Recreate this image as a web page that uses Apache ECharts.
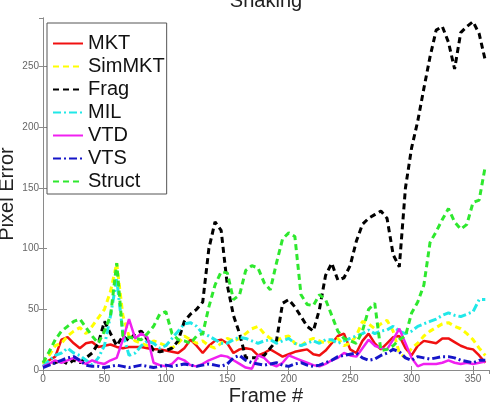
<!DOCTYPE html>
<html>
<head>
<meta charset="utf-8">
<script src="https://cdn.jsdelivr.net/npm/echarts@6/dist/echarts.min.js"></script>
<style>
  html, body { margin: 0; padding: 0; background: #fff; }
  #main { width: 495px; height: 404px; }
</style>
</head>
<body>
<div id="main"></div>
<script>
// frame numbers (every 5 frames)
let frames = [];
for (let i = 0; i <= 360; i = i + 5) {
    frames.push(i);
}

let mkt = [5, 8, 11, 25, 27, 22, 18, 22, 23, 19, 20, 21, 19, 18, 19, 19, 19, 18, 17, 17,
    16, 15, 14, 18, 25, 20, 14, 20, 24, 25, 22, 14, 17, 18, 17, 12, 14, 17, 14, 11,
    13, 15, 16, 17, 13, 12, 16, 22, 28, 30, 17, 14, 24, 30, 22, 17, 22, 27, 28, 18,
    12, 20, 24, 23, 22, 26, 26, 23, 20, 18, 17, 12, 6];
let simMkt = [5, 12, 20, 22, 28, 32, 35, 30, 36, 43, 50, 65, 88, 45, 28, 24, 22, 20, 24, 22,
    20, 18, 22, 28, 25, 22, 24, 20, 18, 22, 26, 24, 26, 30, 34, 36, 30, 26, 24, 27,
    28, 22, 20, 24, 26, 24, 22, 24, 26, 20, 22, 28, 40, 38, 34, 38, 41, 32, 14, 10,
    18, 22, 28, 32, 35, 38, 39, 36, 34, 30, 25, 18, 12];
let frag = [3, 5, 6, 8, 5, 8, 6, 10, 14, 22, 40, 30, 20, 28, 24, 30, 32, 25, 16, 15,
    16, 18, 24, 40, 46, 50, 56, 100, 122, 115, 70, 45, 30, 10, 10, 10, 12, 18, 24, 55,
    58, 52, 44, 36, 32, 50, 78, 88, 74, 76, 86, 106, 120, 125, 128, 131, 125, 95, 85, 150,
    183, 205, 232, 258, 280, 283, 270, 248, 278, 283, 287, 277, 255];
let mil = [3, 8, 12, 14, 18, 14, 12, 8, 4, 10, 20, 45, 75, 30, 12, 14, 20, 24, 22, 18,
    20, 26, 32, 38, 39, 36, 30, 28, 25, 22, 22, 25, 27, 26, 24, 22, 24, 25, 22, 24,
    26, 22, 20, 22, 24, 22, 25, 25, 22, 24, 26, 28, 30, 33, 30, 32, 33, 36, 32, 30,
    32, 36, 38, 40, 42, 45, 47, 45, 44, 46, 48, 58, 58];
let vtd = [3, 5, 8, 6, 8, 10, 7, 5, 8, 6, 5, 8, 10, 25, 42, 26, 30, 27, 6, 4,
    3, 5, 10, 8, 4, 3, 5, 8, 10, 12, 11, 8, 5, 2, 1, 12, 10, 5, 3, 6,
    12, 10, 8, 6, 4, 3, 5, 8, 10, 14, 12, 11, 18, 25, 20, 18, 17, 25, 34, 22,
    10, 3, 5, 5, 5, 6, 8, 6, 5, 6, 5, 6, 7];
let vts = [2, 4, 6, 8, 10, 11, 8, 4, 3, 3, 2, 3, 4, 3, 2, 3, 4, 3, 2, 3,
    4, 3, 4, 5, 4, 3, 4, 5, 4, 3, 5, 10, 12, 8, 6, 5, 4, 5, 6, 4,
    3, 5, 6, 4, 3, 4, 6, 8, 11, 12, 13, 14, 10, 8, 9, 12, 14, 17, 15, 10,
    8, 11, 10, 9, 10, 11, 11, 10, 8, 7, 6, 8, 8];
let struct = [6, 15, 25, 32, 36, 40, 42, 35, 28, 22, 32, 45, 88, 28, 27, 26, 25, 30, 36, 46,
    48, 30, 25, 24, 22, 28, 30, 52, 70, 81, 80, 58, 62, 82, 86, 84, 72, 66, 88, 108,
    113, 110, 62, 54, 53, 62, 58, 45, 32, 26, 24, 22, 32, 50, 55, 16, 17, 20, 25, 28,
    47, 56, 70, 105, 114, 124, 133, 122, 116, 120, 138, 140, 168];

let names = ["MKT", "SimMKT", "Frag", "MIL", "VTD", "VTS", "Struct"];
let values = [mkt, simMkt, frag, mil, vtd, vts, struct];
let colors = ["#f01010", "#ffff00", "#000000", "#20e8e8", "#f020f0", "#1515c8", "#2ee82e"];
let dashes = ["solid", [6, 4], [6, 4], [8, 3, 2, 3], "solid", [8, 3, 2, 3], [6, 4]];

function pairs(ys) {
    let out = [];
    for (let i = 0; i < ys.length; i = i + 1) {
        out.push([frames[i], ys[i]]);
    }
    return out;
}

let axisGray = "#8a8a8a";
let labelStyle = { color: "#666", fontSize: 10, fontFamily: "Liberation Sans" };

function makeAxis(pos, isX, showLabels) {
    return {
        type: "value",
        position: pos,
        min: 0,
        max: isX ? 363 : 290,
        interval: 50,
        axisLine: { show: true, lineStyle: { color: axisGray, width: 1 } },
        axisTick: { show: true, inside: true, length: 4, lineStyle: { color: axisGray } },
        splitLine: { show: false },
        axisLabel: Object.assign({ show: showLabels, margin: 4, showMaxLabel: false }, labelStyle)
    };
}

let xBottom = makeAxis("bottom", true, true);
xBottom.name = "Frame #";
xBottom.nameLocation = "middle";
xBottom.nameGap = 16;
xBottom.nameMoveOverlap = false;
xBottom.nameTextStyle = { fontSize: 20, color: "#222", fontFamily: "Liberation Sans" };

let yLeft = makeAxis("left", false, true);
yLeft.name = "Pixel Error";
yLeft.nameLocation = "middle";
yLeft.nameGap = 26;
yLeft.nameMoveOverlap = false;
yLeft.nameTextStyle = { fontSize: 20, color: "#222", fontFamily: "Liberation Sans" };

let series = [];
for (let i = 0; i < names.length; i = i + 1) {
    series.push({
        name: names[i],
        type: "line",
        data: pairs(values[i]),
        symbol: "none",
        showSymbol: false,
        xAxisIndex: 0,
        yAxisIndex: 0,
        color: colors[i],
        lineStyle: { color: colors[i], width: i === 0 || i === 4 ? 2.5 : 3, type: dashes[i] }
    });
}

let myChart = echarts.init(document.getElementById("main"), null, { renderer: "canvas" });

let option = {
    animation: false,
    backgroundColor: "#fff",
    graphic: [{
        type: "text",
        x: 266,
        y: 1,
        style: { text: "Shaking", fill: "#222", font: "20px 'Liberation Sans'", align: "center", verticalAlign: "middle" }
    }],
    grid: { left: 43, right: 6, top: 18, bottom: 34, outerBoundsMode: "none", containLabel: false },
    legend: {
        orient: "vertical",
        left: 47,
        top: 23,
        padding: [9, 2, 1, 5],
        itemGap: 0,
        itemWidth: 30,
        itemHeight: 14,
        itemStyle: { opacity: 0 },
        backgroundColor: "#fff",
        borderColor: "#555",
        borderWidth: 1,
        borderRadius: 0,
        textStyle: { fontSize: 20, lineHeight: 23, color: "#111", fontFamily: "Liberation Sans" },
        data: names
    },
    xAxis: [xBottom, makeAxis("top", true, false)],
    yAxis: [yLeft, makeAxis("right", false, false)],
    series: series
};

myChart.setOption(option);
</script>
</body>
</html>
